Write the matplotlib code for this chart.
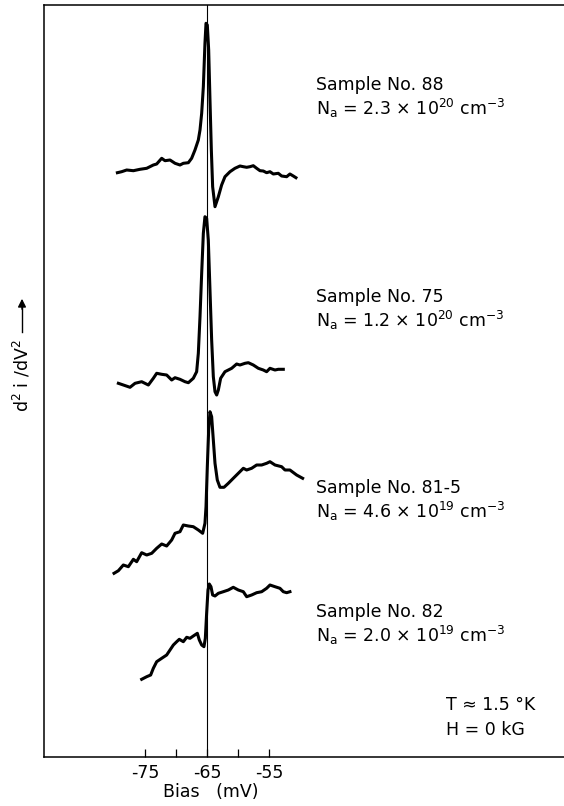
import matplotlib
matplotlib.use("Agg")
import matplotlib.pyplot as plt

# bias in mV, signal in arbitrary units (relative to each trace's own baseline)
bias_88 = [-79.46, -78.77, -77.96, -76.88, -75.81, -74.73, -73.66, -73.12, -72.31, -71.78,
           -70.97, -70.16, -69.36, -68.82, -68.01, -67.48, -66.94, -66.40, -66.13, -65.86,
           -65.59, -65.33, -65.16, -64.95, -64.73, -64.52, -64.30, -64.09, -63.71, -63.17,
           -62.64, -62.10, -61.29, -60.49, -59.68, -59.14, -58.60, -58.07, -57.53, -56.99,
           -56.45, -55.92, -55.38, -54.84, -54.30, -53.50, -52.96, -52.15, -51.62, -51.08,
           -50.65]
sig_88 = [-2.7, -1.7, 0, -0.7, 0.7, 1.7, 5, 6, 11.7, 9.3,
          10, 6.7, 5, 6.7, 7.3, 11.7, 20, 30, 40, 56.7,
          83.3, 126.7, 146.7, 145, 120, 70, 20, -16.7, -36.7, -26.7,
          -15, -6.7, -1.7, 1.7, 4, 3.3, 2.7, 3.3, 4.3, 1.7,
          -0.7, -1, -2.7, -1.7, -4, -3.3, -6, -6.7, -4, -6,
          -7.7]

bias_75 = [-79.30, -78.50, -77.42, -76.61, -75.54, -74.46, -73.66, -73.12, -72.31, -71.51,
           -70.70, -70.16, -69.36, -68.55, -68.01, -67.21, -66.67, -66.40, -66.13, -65.86,
           -65.59, -65.33, -65.06, -64.79, -64.52, -64.25, -63.98, -63.71, -63.44, -63.17,
           -62.80, -62.10, -61.02, -60.22, -59.68, -58.87, -58.33, -57.53, -56.72, -55.92,
           -55.38, -54.84, -54.03, -53.50, -52.69]
sig_75 = [1.7, 0, -2.3, 1.7, 3.3, 0, 6.7, 11.7, 10.7, 10,
          5, 7.3, 5.7, 3.3, 2.3, 6.7, 13.3, 31.7, 68.3, 111.7,
          151.7, 168.3, 166.7, 145, 95, 45, 8.3, -6.7, -10, -5,
          6.7, 13.3, 16.7, 21, 20, 21.7, 22.3, 20, 16.7, 15,
          13.3, 16.7, 15, 15.7, 15.7]

bias_815 = [-80.00, -79.30, -78.50, -77.69, -76.88, -76.35, -75.54, -74.73, -73.92, -73.12,
            -72.31, -71.51, -70.70, -70.16, -69.36, -68.82, -68.01, -67.21, -66.40, -65.70,
            -65.33, -65.16, -64.95, -64.73, -64.52, -64.25, -63.98, -63.71, -63.34, -62.91,
            -62.26, -61.56, -60.76, -59.95, -59.14, -58.60, -57.80, -56.99, -56.18, -55.38,
            -54.84, -54.03, -52.96, -52.42, -51.62, -50.54, -49.57]
sig_815 = [-13.3, -10.7, -5, -6.7, 0.7, -1.7, 7.3, 5, 6.7, 11.7,
           16, 14, 20, 26.7, 28.3, 35, 34, 33.3, 30, 26.7,
           36.7, 53.3, 93.3, 130, 148.3, 143.3, 120, 96.7, 80, 72.7,
           72.7, 76.7, 81.7, 86.7, 91.7, 90, 91.7, 95, 95, 96.7,
           98.3, 95, 93.3, 90, 90, 85, 81.7]

bias_82 = [-75.54, -74.73, -74.09, -73.66, -73.12, -72.31, -71.51, -70.97, -70.43, -69.89,
           -69.47, -68.82, -68.28, -67.74, -67.21, -66.56, -66.24, -65.86, -65.49, -65.27,
           -65.06, -64.84, -64.63, -64.36, -64.09, -63.71, -63.17, -62.37, -61.56, -60.76,
           -59.95, -59.14, -58.60, -57.80, -56.99, -56.18, -55.38, -54.84, -54.03, -53.23,
           -52.69, -52.15, -51.62]
sig_82 = [0.7, 3.3, 5, 11.7, 18.3, 21.7, 25, 30, 35, 38.3,
          40.7, 38.3, 42.7, 41.7, 44, 46.7, 40, 35, 33.3, 41.7,
          66.7, 90, 96, 93.3, 85, 84, 86.7, 88.3, 90, 92.7,
          90, 88.3, 83.3, 85, 87.3, 88.3, 91.7, 95, 93.3, 91.7,
          88.3, 87.3, 88.3]

offsets = [587, 372, 197, 77]
labels = ["Sample No. 88", "Sample No. 75", "Sample No. 81-5", "Sample No. 82"]
conc = [r"N$_{\mathregular{a}}$ = 2.3 × 10$^{\mathregular{20}}$ cm$^{\mathregular{-3}}$",
        r"N$_{\mathregular{a}}$ = 1.2 × 10$^{\mathregular{20}}$ cm$^{\mathregular{-3}}$",
        r"N$_{\mathregular{a}}$ = 4.6 × 10$^{\mathregular{19}}$ cm$^{\mathregular{-3}}$",
        r"N$_{\mathregular{a}}$ = 2.0 × 10$^{\mathregular{19}}$ cm$^{\mathregular{-3}}$"]
label_y = [85, 297, 488, 612]  # pixel rows from top
ticks = [-75, -70, -65, -60, -55]
tick_labels = ["-75", "", "-65", "", "-55"]

W, H = 564, 806
FS = 12.5
fig = plt.figure(figsize=(W / 100, H / 100), dpi=100)
ax = fig.add_axes([44 / W, (H - 757) / H, 1 - 44 / W, 752 / H])

traces = [(bias_88, sig_88), (bias_75, sig_75), (bias_815, sig_815), (bias_82, sig_82)]
for (b, s), off in zip(traces, offsets):
    ax.plot(b, [v + off for v in s], color="black", lw=2.2, solid_joinstyle="round")

ax.axvline(-65, color="black", lw=0.8)

ax.set_xlim(-91.3, -7.4)
ax.set_ylim(0, 752)
ax.set_yticks([])
ax.set_xticks(ticks)
ax.set_xticklabels(tick_labels, fontsize=FS)
ax.tick_params(axis="x", direction="in", length=6, width=0.9, pad=5)
ax.spines["right"].set_visible(False)
for sp in ["left", "top", "bottom"]:
    ax.spines[sp].set_linewidth(1.1)

fig.text(211 / W, 1 - 792 / H, "Bias   (mV)", fontsize=FS, va="center", ha="center")

for lab, cc, yy in zip(labels, conc, label_y):
    fig.text(316 / W, 1 - yy / H, lab, fontsize=FS, va="center", ha="left")
    fig.text(316 / W, 1 - (yy + 23) / H, cc, fontsize=FS, va="center", ha="left")

fig.text(446 / W, 1 - 705 / H, "T ≈ 1.5 °K", fontsize=FS, va="center", ha="left")
fig.text(446 / W, 1 - 730 / H, "H = 0 kG", fontsize=FS, va="center", ha="left")

fig.text(22 / W, 1 - 376 / H, r"d$^{\mathregular{2}}$ i /dV$^{\mathregular{2}}$",
         fontsize=FS, rotation=90, va="center", ha="center")
fig.add_artist(plt.Line2D([22 / W, 22 / W], [1 - 332 / H, 1 - 305 / H], color="black", lw=1.0))
ax.annotate("", xy=(22 / W, 1 - 296 / H), xytext=(22 / W, 1 - 312 / H),
            xycoords="figure fraction",
            arrowprops=dict(arrowstyle="-|>", color="black", lw=1.0, mutation_scale=12))

fig.savefig("out.png", dpi=100)
